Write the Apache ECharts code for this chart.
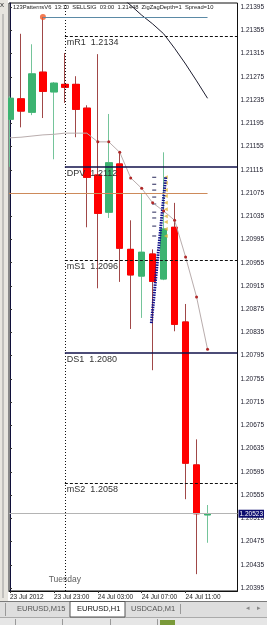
<!DOCTYPE html>
<html>
<head>
<meta charset="utf-8">
<script src="https://cdn.jsdelivr.net/npm/echarts@6/dist/echarts.min.js"></script>
<style>
html,body{margin:0;padding:0;background:#fff;}
#main{width:267px;height:625px;}
</style>
</head>
<body>
<div id="main"></div>
<script>
// EURUSD H1, 23 Jul 2012 19:00 .. 24 Jul 13:00
let hours=["23 Jul 19:00","23 Jul 20:00","23 Jul 21:00","23 Jul 22:00","23 Jul 23:00","24 Jul 00:00","24 Jul 01:00","24 Jul 02:00","24 Jul 03:00","24 Jul 04:00","24 Jul 05:00","24 Jul 06:00","24 Jul 07:00","24 Jul 08:00","24 Jul 09:00","24 Jul 10:00","24 Jul 11:00","24 Jul 12:00","24 Jul 13:00"];
let opens =[1.21202,1.21237,1.21214,1.21283,1.21249,1.21262,1.21262,1.21221,1.21106,1.21042,1.21125,1.20978,1.20932,1.20970,1.20927,1.21016,1.20853,1.20607,1.20521];
let closes=[1.21238,1.21216,1.21280,1.21250,1.21264,1.21257,1.21219,1.21102,1.21040,1.21127,1.20980,1.20934,1.20973,1.20923,1.21013,1.20849,1.20610,1.20523,1.20523];
let lows  =[1.21120,1.21188,1.21209,1.21204,1.21133,1.21230,1.21171,1.21016,1.20911,1.21032,1.20922,1.20841,1.20860,1.20770,1.20925,1.20837,1.20548,1.20419,1.20473];
let highs =[1.21242,1.21349,1.21331,1.21378,1.21266,1.21316,1.21276,1.21226,1.21314,1.21211,1.21145,1.21028,1.21075,1.20978,1.21145,1.21058,1.20884,1.20651,1.20538];
let maSlow=[1.21170,1.21171,1.21173,1.21175,1.21176,1.21178,1.21178,1.21178,1.21163,1.21163,1.21145,1.21101,1.21083,1.21058,1.21044,1.21028,1.20965,1.20896,1.20806];
let maFast=[null,null,null,null,null,null,null,null,null,null,1.21414,1.21398,1.21381,1.21366,1.21349,1.21324,1.21297,1.21268,1.21238];

let tickIdx=[0,4,8,12,16];
let tickText=["23 Jul 2012","23 Jul 23:00","24 Jul 03:00","24 Jul 07:00","24 Jul 11:00"];
let priceTicks=[1.20395,1.20435,1.20475,1.20515,1.20555,1.20595,1.20635,1.20675,1.20715,1.20755,1.20795,1.20835,1.20875,1.20915,1.20955,1.20995,1.21035,1.21075,1.21115,1.21155,1.21195,1.21235,1.21275,1.21315,1.21355,1.21395];

let levelNames=["mR1","DPV","mS1","DS1","mS2"];
let levelText=["1.2134","1.2112","1.2096","1.2080","1.2058"];
let levelValues=[1.21345,1.2112,1.2096,1.2080,1.20576];

let dayStart=5;          // Tuesday 00:00
let sigBar=3;            // pattern high
let sigHigh=1.21378;
let sigLevel=1.21075;
let lastPrice=1.20523;

let zzX=[12.88,14.18];
let zzY=[1.20851,1.21102];
let dashX=13.14;
let dashY=[1.21102,1.21090,1.21080,1.21068,1.21056,1.21042,1.21032,1.21018,1.21001];
let triX=14.2;
let triY=[1.21102,1.21092,1.21080,1.21070,1.21058,1.21047,1.21035,1.21025,1.21013,1.21001];

let header="123PatternsV6  13:10  SELLSIG  03:00  1.21448  ZigZagDepth=1  Spread=10";

let xMin=-0.09,xMax=20.73,yMin=1.2039,yMax=1.21402;
let font="Liberation Sans";

let candles=hours.map((h,i)=>[i,opens[i],closes[i],lows[i],highs[i]]);
let bodies=hours.map((h,i)=>[i,opens[i],closes[i],Math.min(opens[i],closes[i]),Math.max(opens[i],closes[i])]);

let levelLines=levelNames.map((n,i)=>{
	let solid=n.charAt(0)=="D";
	return [{
		coord:[dayStart,levelValues[i]],
		lineStyle:{color:solid?"#10104a":"#111",width:solid?1.5:1,type:solid?"solid":[3,2]},
		label:{formatter:n+"  "+levelText[i]}
	},{coord:[xMax,levelValues[i]]}];
});

let myChart=echarts.init(document.getElementById("main"));
let option={
	animation:false,
	backgroundColor:"#fff",
	title:{
		text:header,left:13,top:4,padding:0,
		textStyle:{fontSize:5.8,fontWeight:"normal",color:"#222",fontFamily:font}
	},
	grid:{left:9,right:29,top:3,bottom:34,show:true,borderColor:"#111",borderWidth:1,backgroundColor:"#fff"},
	xAxis:{
		type:"value",min:xMin,max:xMax,
		splitLine:{show:false},
		axisLine:{show:true,lineStyle:{color:"#111"}},
		axisTick:{show:true,length:2,customValues:tickIdx,lineStyle:{color:"#333"}},
		axisLabel:{customValues:tickIdx,formatter:v=>tickText[tickIdx.indexOf(v)],align:"left",
			fontSize:6.5,color:"#222",margin:3,fontFamily:font}
	},
	yAxis:{
		type:"value",position:"right",min:yMin,max:yMax,
		splitLine:{show:false},
		axisLine:{show:true,lineStyle:{color:"#10103a"}},
		axisTick:{show:true,length:2,customValues:priceTicks,lineStyle:{color:"#333"}},
		axisLabel:{customValues:priceTicks,formatter:v=>v.toFixed(5),fontSize:6.5,color:"#1a1a2a",margin:3,fontFamily:font}
	},
	series:[
		{
			type:"line",data:[],silent:true,
			markLine:{symbol:["none","none"],silent:true,label:{show:false},
				lineStyle:{color:"#111",type:[1,2],width:1},
				data:[{xAxis:dayStart}]}
		},
		{
			type:"line",data:[],silent:true,
			markLine:{symbol:["none","none"],silent:true,label:{show:false},
				data:[
					[{coord:[xMin,sigLevel],lineStyle:{color:"#cd8a5a",width:1,type:"solid"}},{coord:[hours.length-1,sigLevel]}],
					[{coord:[sigBar,sigHigh],lineStyle:{color:"#5b8aa6",width:1,type:"solid"}},{coord:[hours.length-1,sigHigh]}]
				]}
		},
		{
			type:"line",data:maSlow.map((v,i)=>[i,v]),
			lineStyle:{color:"#b9adad",width:1},
			symbol:"circle",
			symbolSize:(v,p)=>p.dataIndex>=8?3:0,
			itemStyle:{color:"#b02828"}
		},
		{
			type:"line",data:maFast.map((v,i)=>[i,v]),
			lineStyle:{color:"#1e1e30",width:1},showSymbol:false,connectNulls:false
		},
		{
			type:"candlestick",data:candles,encode:{x:0,y:[1,2,3,4]},barWidth:7,
			itemStyle:{color:"#3cb371",color0:"#ff0000",borderColor:"#74c49a",borderColor0:"#a04848",borderWidth:1}
		},
		{
			type:"candlestick",data:bodies,encode:{x:0,y:[1,2,3,4]},barWidth:7,
			itemStyle:{color:"#3cb371",color0:"#ff0000",borderColor:"#3cb371",borderColor0:"#ff0000",borderWidth:1}
		},
		{
			type:"line",data:zzX.map((x,i)=>[x,zzY[i]]),showSymbol:false,
			lineStyle:{color:"#12128c",width:3,type:[1.5,1]}
		},
		{
			type:"scatter",data:dashY.map(v=>[dashX,v]),symbol:"rect",symbolSize:[4,1.2],
			itemStyle:{color:"#1a1a50"}
		},
		{
			type:"scatter",data:triY.map(v=>[triX,v]),symbol:"triangle",symbolRotate:90,symbolSize:4,
			itemStyle:{color:"#e2b53a"}
		},
		{
			type:"scatter",data:[[sigBar,sigHigh]],symbolSize:6,itemStyle:{color:"#f05a28"}
		},
		{
			type:"line",data:[],silent:true,
			markLine:{symbol:["none","none"],silent:true,
				lineStyle:{color:"#111",width:1},
				label:{show:true,position:"insideStartBottom",distance:2,color:"#333",fontSize:9,fontFamily:font},
				data:levelLines}
		},
		{
			type:"line",data:[],silent:true,
			markLine:{symbol:["none","none"],silent:true,
				data:[[{coord:[xMin,lastPrice],lineStyle:{color:"#b4b4b4",width:1,type:"solid"},
					label:{show:true,position:"end",distance:1,formatter:lastPrice.toFixed(5),color:"#fff",
						backgroundColor:"#0c0c6e",padding:[1,1,0,1],fontSize:6.5,fontFamily:font}},
					{coord:[xMax,lastPrice]}]]}
		},
		{
			type:"scatter",data:[[dayStart,1.2041]],symbolSize:0,
			label:{show:true,formatter:"Tuesday",position:"inside",color:"#333",fontSize:8.5,fontFamily:font}
		}
	],
	graphic:[
		{type:"rect",shape:{x:0,y:0,width:8,height:601},style:{fill:"#e7e5df"},z:10},
		{type:"line",shape:{x1:3,y1:14,x2:3,y2:598},style:{stroke:"#9a9a9a",lineWidth:1},z:10},
		{type:"text",x:0,y:1,style:{text:"x",fontSize:8,fill:"#333",fontFamily:font},z:10},
		{type:"line",shape:{x1:0,y1:601.5,x2:267,y2:601.5},style:{stroke:"#7a7a7a",lineWidth:1},z:10},
		{type:"rect",shape:{x:0,y:602,width:267,height:15},style:{fill:"#dedede"},z:10},
		{type:"rect",shape:{x:70,y:601.5,width:55,height:15.5},style:{fill:"#fff",stroke:"#555",lineWidth:1},z:11},
		{type:"line",shape:{x1:5.5,y1:603,x2:5.5,y2:616},style:{stroke:"#999",lineWidth:1},z:11},
		{type:"line",shape:{x1:180.5,y1:604,x2:180.5,y2:614},style:{stroke:"#999",lineWidth:1},z:11},
		{type:"text",x:17,y:605,style:{text:"EURUSD,M15",fontSize:7.5,fill:"#555",fontFamily:font},z:12},
		{type:"text",x:77,y:605,style:{text:"EURUSD,H1",fontSize:7.5,fill:"#111",fontFamily:font},z:12},
		{type:"text",x:131,y:605,style:{text:"USDCAD,M1",fontSize:7.5,fill:"#555",fontFamily:font},z:12},
		{type:"text",x:246,y:605,style:{text:"◂",fontSize:7,fill:"#888",fontFamily:font},z:12},
		{type:"text",x:257,y:605,style:{text:"▸",fontSize:7,fill:"#888",fontFamily:font},z:12},
		{type:"line",shape:{x1:0,y1:617.5,x2:267,y2:617.5},style:{stroke:"#aaa",lineWidth:1},z:10},
		{type:"rect",shape:{x:0,y:618,width:267,height:7},style:{fill:"#e6e6e6"},z:10},
		{type:"line",shape:{x1:15.5,y1:619,x2:15.5,y2:625},style:{stroke:"#999",lineWidth:1},z:11},
		{type:"line",shape:{x1:62.5,y1:619,x2:62.5,y2:625},style:{stroke:"#999",lineWidth:1},z:11},
		{type:"line",shape:{x1:110.5,y1:619,x2:110.5,y2:625},style:{stroke:"#999",lineWidth:1},z:11},
		{type:"line",shape:{x1:157.5,y1:619,x2:157.5,y2:625},style:{stroke:"#999",lineWidth:1},z:11},
		{type:"rect",shape:{x:160,y:620,width:15,height:5},style:{fill:"#7a9a3a"},z:11}
	]
};
myChart.setOption(option);
</script>
</body>
</html>
